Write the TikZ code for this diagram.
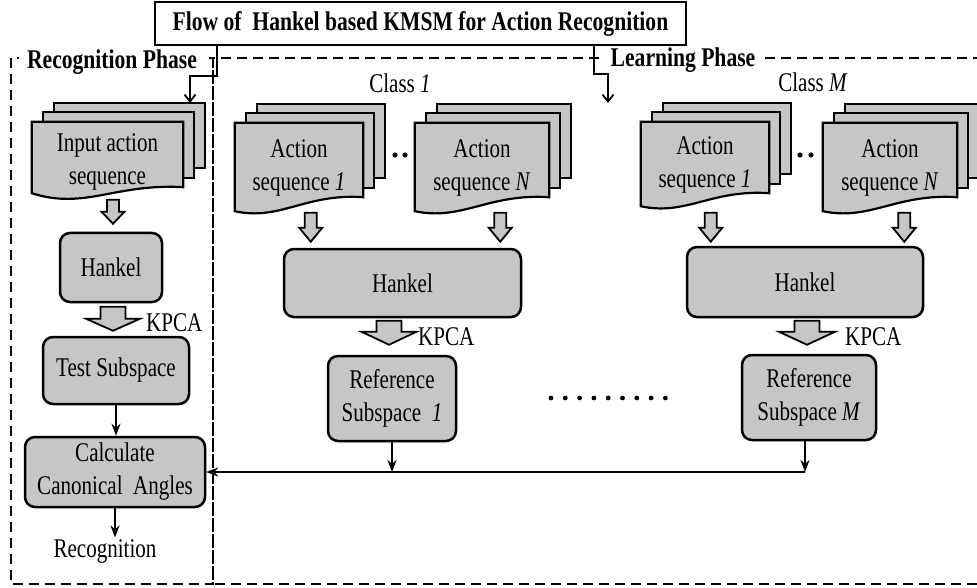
\documentclass[tikz,border=0pt]{standalone}
\usepackage{fontspec}
\setmainfont{Liberation Serif}[FakeStretch=0.78, BoldFeatures={FakeStretch=0.8}]
\usetikzlibrary{calc,arrows.meta,backgrounds}

\definecolor{boxgray}{RGB}{198,198,198}

% hollow block arrow: tip, length, shaft half width, head half width, head length
\newcommand{\fatarrow}[5]{%
  \draw[fatarr] #1 -- ++(#4,-#5) -- ++(#3-#4,0) -- ++(0,#5-#2) -- ++(-2*#3,0)
    -- ++(0,#2-#5) -- ++(#3-#4,0) -- cycle;}

% stack of three sheets behind a document node: node, right drop, left drop
\newcommand{\docstack}[3]{%
  \begin{scope}[on background layer]
    \foreach \dx/\dy in {22/-19, 11/-9.5}
      \draw[sheet] ($(#1.north west)+(\dx,\dy)$) rectangle ($(#1.south east)+(\dx,\dy-#2)$);
    \draw[sheet] (#1.north west) -- (#1.north east) -- ($(#1.south east)+(0,-#2)$)
      .. controls ($(#1.south east)!0.45!(#1.south west)+(0,-#2-4)$)
      and ($(#1.south west)!0.35!(#1.south east)+(0,8)$) .. ($(#1.south west)+(0,-#3)$) -- cycle;
  \end{scope}}

\begin{document}
\begin{tikzpicture}[x=1pt, y=-1pt,
  every node/.style={font=\fontsize{27}{33}\selectfont},
  doc/.style={align=center, inner sep=0pt},
  proc/.style={draw, line width=2.5pt, fill=boxgray, rounded corners=10pt, align=center, inner sep=0pt},
  sheet/.style={draw, line width=2.2pt, fill=boxgray},
  fatarr/.style={draw, line width=1.8pt, fill=boxgray},
  thinarr/.style={line width=2.4pt, -{Stealth[length=12pt,width=9pt]}},
  flowarr/.style={line width=1.8pt, -{Straight Barb[length=7pt,width=11pt]}},
  phase/.style={line width=2.2pt, dash pattern=on 10pt off 6pt},
  phaselbl/.style={fill=white, inner xsep=8pt, inner ysep=2pt, font=\bfseries\fontsize{27}{33}\selectfont}]
\useasboundingbox (0,0) rectangle (977,588);

% phases
\draw[phase] (11,58) rectangle (213,584);
\draw[phase] (213,58) rectangle (1000,584);
\node[phaselbl] (recph) at (112,62) {Recognition Phase};
\node[phaselbl] (learnph) at (683,60) {Learning Phase};

\node[draw, fill=white, line width=2.2pt, minimum width=531pt, minimum height=43pt, inner sep=0pt,
  font=\bfseries\fontsize{27}{33}\selectfont] (title) at (420.5,23.5)
  {Flow of\ \ Hankel based KMSM for Action Recognition};
\coordinate (recIn) at (190,103);
\coordinate (learnIn) at (608,103);
\draw[flowarr] ($(title.south west)+(63,0)$) -- ++(0,30) -| (recIn);
\draw[flowarr] ($(title.south west)+(440,0)$) -- ++(0,28) -| (learnIn);

\node (cls1) at (400,83) {Class \textit{1}};
\node (clsM) at (813,82) {Class \textit{M}};

% action sequences
\node[doc, minimum width=151pt, minimum height=80pt] (inSeq) at (107.5,162) {Input action\\sequence};
\node[doc, minimum width=128pt, minimum height=90pt] (seqA1) at (299,168) {Action\\sequence \textit{1}};
\node[doc, minimum width=134pt, minimum height=90pt] (seqAN) at (482,168) {Action\\sequence \textit{N}};
\node[doc, minimum width=128pt, minimum height=86pt] (seqM1) at (705,165) {Action\\sequence \textit{1}};
\node[doc, minimum width=134pt, minimum height=90pt] (seqMN) at (890,168) {Action\\sequence \textit{N}};
\docstack{inSeq}{15}{9}
\docstack{seqA1}{16}{2}
\docstack{seqAN}{16}{2}
\docstack{seqM1}{15}{2}
\docstack{seqMN}{16}{2}
\foreach \x in {395,405} \fill (\x,155) circle (2.6pt);
\foreach \x in {800,811} \fill (\x,155) circle (2.6pt);

% recognition phase
\node[proc, minimum width=102pt, minimum height=69pt] (hankR) at (111,267.5) {Hankel};
\node[proc, minimum width=146pt, minimum height=67pt] (test) at (116,370.5) {Test Subspace};
\node[proc, minimum width=180pt, minimum height=70pt] (canon) at (115,472) {Calculate\\Canonical\ \ Angles};
\node[inner sep=1.5pt] (recog) at (105,551) {Recognition};
\node[anchor=west, inner sep=0pt] (kpcaR) at (146,323) {KPCA};

% learning phase
\node[proc, minimum width=237pt, minimum height=68pt] (hankA) at (402.5,283) {Hankel};
\node[proc, minimum width=236pt, minimum height=70pt] (hankM) at (805,282) {Hankel};
\node[proc, minimum width=128pt, minimum height=85pt] (refA) at (392,398.5) {Reference\\Subspace\ \ \textit{1}};
\node[proc, minimum width=134pt, minimum height=85pt] (refM) at (809,397.5) {Reference\\Subspace \textit{M}};
\node[anchor=west, inner sep=0pt] (kpcaA) at (418,337) {KPCA};
\node[anchor=west, inner sep=0pt] (kpcaM) at (845,337) {KPCA};
\foreach \i in {0,...,8} \fill (551+\i*14.3,398) circle (2.4pt);

\fatarrow{($(hankR.north)+(2,-8)$)}{24}{6}{11.5}{12}
\fatarrow{($(hankA.north west)+(28,-6)$)}{29}{6}{11.5}{14}
\fatarrow{($(hankA.north east)+(-22,-6)$)}{29}{6}{11.5}{14}
\fatarrow{($(hankM.north west)+(25,-4)$)}{29}{6}{11.5}{14}
\fatarrow{($(hankM.north east)+(-20,-4)$)}{29}{6}{11.5}{14}
\fatarrow{($(test.north)+(-3,-5)$)}{24}{12.5}{27}{12}
\fatarrow{($(refA.north)+(-3,-10)$)}{24}{12.5}{27.5}{13}
\fatarrow{($(refM.north)+(-2,-9)$)}{24}{12.5}{28}{13}

\draw[thinarr] (test.south) -- (test.south |- canon.north);
\draw[thinarr] (canon.south) -- (canon.south |- recog.north);
\coordinate (joinA) at (refA.south |- canon.east);
\coordinate (refMout) at ($(refM.south)+(-4,0)$);
\coordinate (joinM) at (refMout |- canon.east);
\draw[thinarr] (refA.south) -- (joinA);
\draw[thinarr] (refMout) -- (joinM);
\draw[thinarr] (joinM) -- (canon.east);
\end{tikzpicture}
\end{document}
